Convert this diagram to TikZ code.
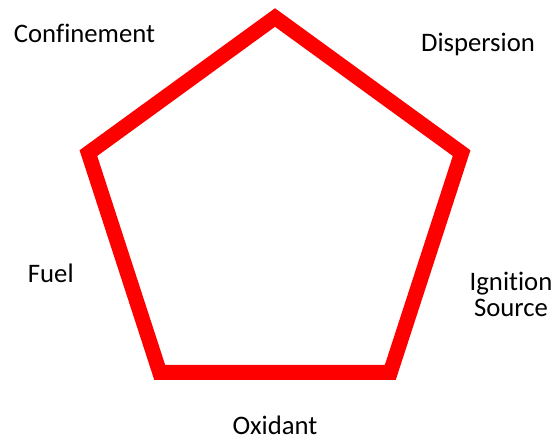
\documentclass[tikz,border=0pt]{standalone}
\usepackage{fontspec}
\setmainfont[RawFeature=-liga]{Carlito}
\begin{document}
\begin{tikzpicture}[x=1pt,y=-1pt,
  lbl/.style={anchor=base,inner sep=0pt,font=\fontsize{26.7}{26}\selectfont,align=center},
  edge/.style={draw=red,line width=15pt,line join=miter}]
\useasboundingbox (0,0) rectangle (553,440);
\coordinate (top) at (275,17.5);
\coordinate (ur) at (461.6,153.1);
\coordinate (lr) at (390.3,372.4);
\coordinate (ll) at (159.7,372.4);
\coordinate (ul) at (88.4,153.1);
\draw[edge] (top) -- (ur) -- (lr) -- (ll) -- (ul) -- cycle;
\node[lbl] (conf) at (84.5,42.3) {Confinement};
\node[lbl] (disp) at (478,51.7) {Dispersion};
\node[lbl] (fuel) at (50.8,282.3) {Fuel};
\node[lbl] (ign) at (511,316.7) {Ignition\\Source};
\node[lbl] (oxi) at (275,434) {Oxidant};
\end{tikzpicture}
\end{document}
